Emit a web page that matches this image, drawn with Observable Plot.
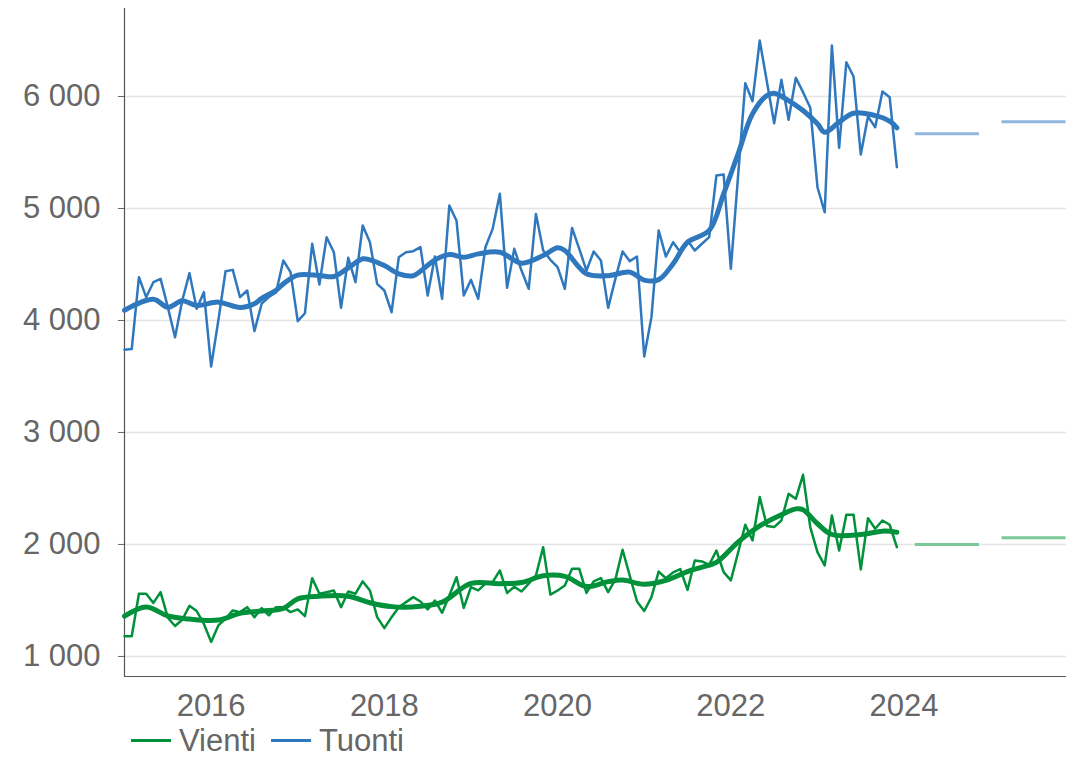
<!DOCTYPE html>
<html>
<head>
<meta charset="utf-8">
<script src="https://cdn.jsdelivr.net/npm/d3@7"></script>
<script src="https://cdn.jsdelivr.net/npm/@observablehq/plot@0.6"></script>
<style>
  html, body { margin: 0; padding: 0; background: #fff; }
  #chart { width: 1073px; height: 724px; }
  #chart svg { display: block; }
  .legend { display: flex; align-items: center; height: 33px; padding-left: 131px;
            font-family: "Liberation Sans", Arial, sans-serif; font-size: 31px; line-height: 33px; color: #666; }
  .legend .sw { display: inline-block; width: 40px; height: 3px; margin-right: 8px; }
  .legend .item { display: flex; align-items: center; margin-right: 15px; line-height: 33px; }
</style>
</head>
<body>
<div id="chart"></div>
<div class="legend">
  <span class="item"><span class="sw" style="background:#00913a"></span><span>Vienti</span></span>
  <span class="item"><span class="sw" style="background:#2f78bd"></span><span>Tuonti</span></span>
</div>
<script>
// Monthly values, Jan 2015 – Dec 2023
const startYear = 2015;
const vientiMonthly = [
  1180,1180,1560,1560,1478,1574,1346,1272,1328,1452,
  1406,1290,1130,1277,1336,1411,1396,1440,1351,1431,
  1366,1440,1440,1396,1420,1360,1699,1560,1574,1589,
  1440,1580,1560,1670,1589,1351,1253,1351,1440,1485,
  1530,1491,1420,1500,1390,1545,1708,1433,1620,1590,
  1650,1664,1768,1567,1622,1580,1650,1723,1976,1552,
  1589,1634,1783,1783,1567,1670,1700,1574,1686,1953,
  1720,1491,1406,1530,1758,1698,1750,1780,1594,1857,
  1848,1818,1946,1753,1679,1926,2176,2036,2423,2164,
  2155,2214,2452,2408,2622,2155,1932,1813,2259,1946,
  2265,2265,1777,2235,2140,2214,2176,1976
];
const tuontiMonthly = [
  3738,3745,4387,4208,4342,4372,4119,3851,4179,4423,
  4104,4253,3589,4000,4440,4452,4208,4268,3905,4150,
  4210,4250,4536,4432,3994,4065,4685,4321,4744,4610,
  4113,4560,4342,4848,4699,4327,4268,4074,4565,4610,
  4619,4655,4223,4571,4193,5027,4890,4223,4363,4194,
  4654,4818,5131,4292,4640,4446,4283,4952,4625,4542,
  4476,4283,4827,4640,4446,4616,4536,4113,4372,4616,
  4530,4571,3679,4030,4804,4571,4699,4610,4714,4625,
  4685,4744,5295,5304,4461,5290,6119,5958,6500,6130,
  5762,6149,5792,6167,6039,5899,5190,4967,6455,5542,
  6306,6179,5482,5821,5726,6045,5994,5369
];
// Trend (month index from Jan 2015, value)
const vientiTrendMonths = [0,3,6,9,13,16,19,22,24,27,31,34,37,41,44,48,52,55,58,61,64,67,69,72,75,78,80,82,85,88,91,93,94,96,98,102,105,107];
const vientiTrend =       [1360,1442,1362,1334,1325,1385,1405,1430,1515,1538,1538,1480,1445,1448,1485,1652,1650,1660,1720,1715,1625,1668,1682,1645,1679,1758,1798,1840,2021,2165,2265,2318,2310,2185,2089,2089,2119,2110];
const tuontiTrendMonths = [0,4,6,8,10,13,16,18,19,21,22,24,27,29,31,33,34,36,38,40,41,43,45,47,49,52,55,58,60,61,64,67,70,72,74,76,78,81,83,85,87,89,90,92,94,96,97,99,101,104,106,107];
const tuontiTrend =       [4092,4190,4118,4176,4134,4164,4116,4149,4197,4270,4327,4405,4402,4393,4470,4551,4542,4491,4417,4400,4440,4540,4589,4565,4595,4610,4512,4580,4649,4625,4417,4400,4432,4360,4365,4506,4699,4804,5131,5488,5845,6009,6030,5964,5875,5756,5681,5771,5851,5830,5780,5720];
// Forecasts
const forecastYears = [2024, 2025];
const vientiForecast = [2000, 2060];
const tuontiForecast = [5667, 5774];

const yTicks = [1000, 2000, 3000, 4000, 5000, 6000];
const xTicks = [2016, 2018, 2020, 2022, 2024];

const green = "#00913a", blue = "#2f78bd";
const lightGreen = "#7cc899", lightBlue = "#92b7de";

const toYear = m => startYear + m / 12;
const monthlyData = (arr) => arr.map((v, i) => ({x: toYear(i), v}));
const trendData = (ms, vs) => ms.map((m, i) => ({x: toYear(m), v: vs[i]}));
const forecastData = (vs) => forecastYears.map((yr, i) => ({yr, v: vs[i]}));

const xDomain = [2015, 2025.875];
const yDomain = [821, 6786];
const fmt = d => d3.format(",")(d).replace(/,/g, "\u00a0");

const chart = Plot.plot({
  width: 1073,
  height: 724,
  marginLeft: 124,
  marginRight: 7,
  marginTop: 8,
  marginBottom: 48,
  x: {domain: xDomain},
  y: {domain: yDomain},
  style: {fontFamily: "'Liberation Sans', Arial, sans-serif", fontSize: "31px", color: "#666", background: "#fff"},
  marks: [
    Plot.gridY(yTicks, {stroke: "#e4e4e4", strokeOpacity: 1, strokeWidth: 1.5}),
    Plot.axisY(yTicks, {tickSize: 6, tickPadding: 18, tickFormat: fmt, label: null, fontSize: 31}),
    Plot.axisX(xTicks, {tickSize: 0, tickPadding: 17, tickFormat: d => String(d), label: null, fontSize: 31}),
    Plot.ruleX([xDomain[0]], {stroke: "#555", strokeWidth: 1.2}),
    Plot.ruleY([yDomain[0]], {stroke: "#555", strokeWidth: 1.2}),
    Plot.ruleY(forecastData(vientiForecast), {y: "v", x1: d => d.yr + 0.13, x2: d => d.yr + 0.87, stroke: lightGreen, strokeWidth: 3}),
    Plot.ruleY(forecastData(tuontiForecast), {y: "v", x1: d => d.yr + 0.13, x2: d => d.yr + 0.87, stroke: lightBlue, strokeWidth: 3}),
    Plot.line(monthlyData(tuontiMonthly), {x: "x", y: "v", stroke: blue, strokeWidth: 2.5, strokeLinejoin: "round"}),
    Plot.line(trendData(tuontiTrendMonths, tuontiTrend), {x: "x", y: "v", stroke: blue, strokeWidth: 5, curve: "catmull-rom"}),
    Plot.line(monthlyData(vientiMonthly), {x: "x", y: "v", stroke: green, strokeWidth: 2.5, strokeLinejoin: "round"}),
    Plot.line(trendData(vientiTrendMonths, vientiTrend), {x: "x", y: "v", stroke: green, strokeWidth: 5, curve: "catmull-rom"})
  ]
});
document.getElementById("chart").appendChild(chart);
</script>
</body>
</html>
